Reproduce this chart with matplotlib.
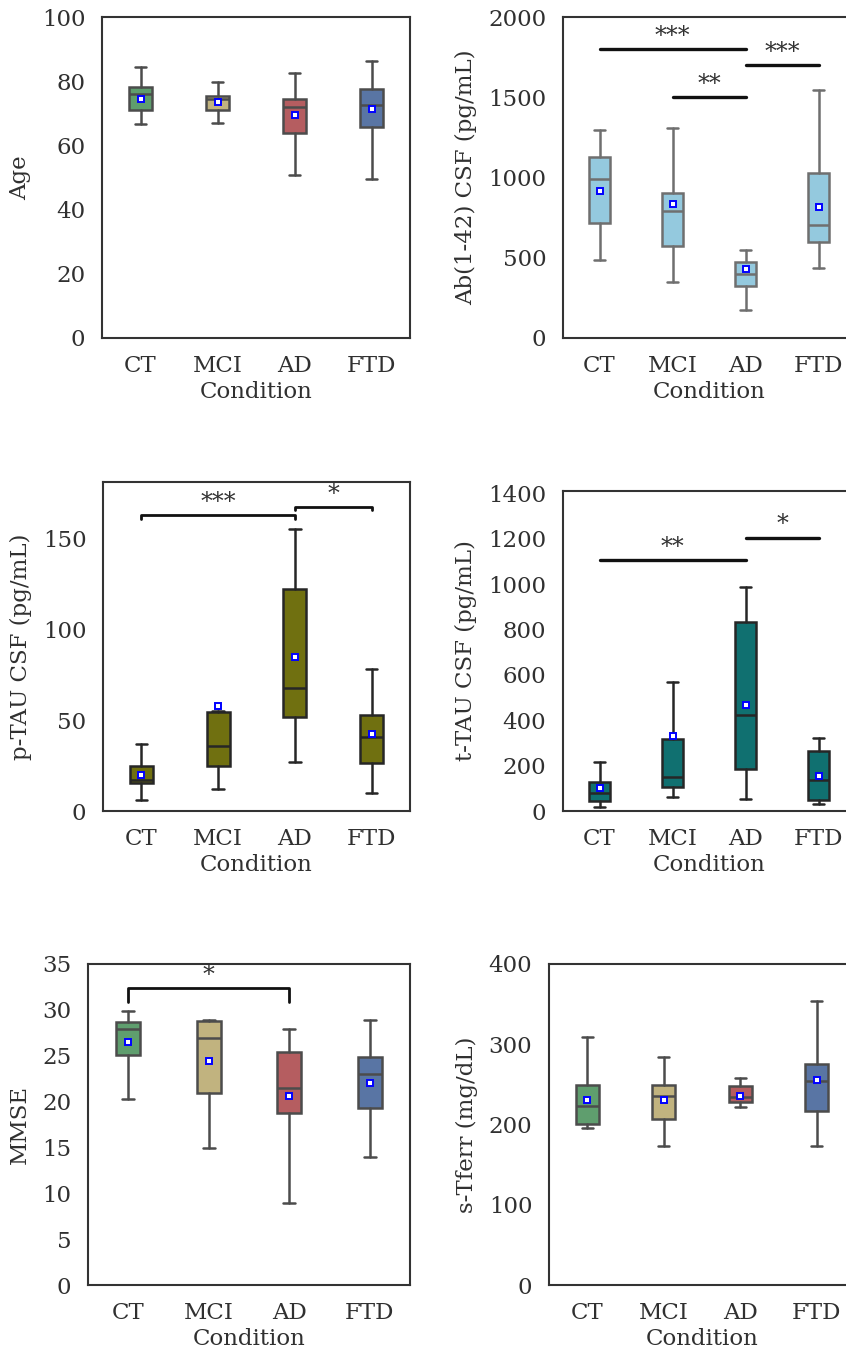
import colorsys

import matplotlib
matplotlib.use("Agg")
import matplotlib.colors as mcolors
import matplotlib.pyplot as plt
import seaborn as sns

sns.set_style("white")
plt.rcParams["font.family"] = ["DejaVu Serif"]
plt.rcParams["xtick.major.pad"] = 12
plt.rcParams["ytick.major.pad"] = 12

conditions = ["CT", "MCI", "AD", "FTD"]
deep = ["#55A868", "#CCB974", "#C44E52", "#4C72B0"]

# each box: (whisker low, q1, median, q3, whisker high, mean)
age_box = [(66.8, 70.9, 76.1, 78.2, 84.3, 74.4),
           (67.0, 71.1, 74.6, 75.5, 79.8, 73.5),
           (50.9, 64.0, 71.9, 74.4, 82.6, 69.6),
           (49.6, 65.7, 72.5, 77.7, 86.2, 71.4)]
ab_box = [(487, 715, 989, 1126, 1295, 916),
          (347, 571, 791, 906, 1306, 833),
          (174, 322, 397, 474, 550, 432),
          (436, 600, 704, 1028, 1547, 818)]
ptau_box = [(5.9, 15.6, 17.1, 25.0, 36.9, 20.0),
            (11.9, 25.0, 36.0, 54.4, 55.2, 57.7),
            (27.0, 51.8, 67.6, 122.4, 155.0, 84.9),
            (10.1, 26.3, 40.6, 52.6, 78.3, 42.3)]
ttau_box = [(19, 46, 81, 126, 217, 103),
            (63, 104, 151, 316, 568, 329),
            (51, 185, 423, 834, 988, 468),
            (31, 48, 137, 264, 323, 154)]
mmse_box = [(20.3, 25.1, 27.9, 28.7, 29.9, 26.5),
            (14.9, 20.95, 26.9, 28.8, 28.9, 24.4),
            (8.9, 18.7, 21.5, 25.4, 27.9, 20.6),
            (14.0, 19.3, 23.0, 24.9, 28.9, 22.0)]
tferr_box = [(195.4, 200.4, 222.5, 248.6, 309, 230.8),
             (173.8, 207, 235, 248.6, 284, 230.4),
             (221.6, 227.9, 234, 247.8, 258, 235.3),
             (173.8, 217, 254.5, 275.7, 354, 254.9)]

# significance: (group a, group b, height, drop, label)
ab_sig = [(0, 2, 1800, 0, "***"), (1, 2, 1500, 0, "**"), (2, 3, 1700, 0, "***")]
ptau_sig = [(0, 2, 162.9, 2.4, "***"), (2, 3, 167.1, 1.5, "*")]
ttau_sig = [(0, 2, 1105, 0, "**"), (2, 3, 1205, 0, "*")]
mmse_sig = [(0, 2, 32.4, 1.5, "*")]

FS = 16.5
TXT = "#303030"


def axes_at(fig, left, right, top, bottom):
    W, H = 846, 1357
    return fig.add_axes([left / W, 1 - bottom / H, (right - left) / W, (bottom - top) / H])


def draw(ax, box, colors, ylabel, ylim, yticks, sig=()):
    fills = [sns.desaturate(c, 0.75) for c in colors]
    lum = min(colorsys.rgb_to_hls(*mcolors.to_rgb(c))[1] for c in fills) * 0.6
    gray = (lum, lum, lum)
    stats = [dict(whislo=b[0], q1=b[1], med=b[2], q3=b[3], whishi=b[4], mean=b[5])
             for b in box]
    line = dict(color=gray, linewidth=1.8)
    bp = ax.bxp(stats, positions=range(4), widths=0.3, capwidths=0.15,
                patch_artist=True, showmeans=True, showfliers=False,
                boxprops=dict(edgecolor=gray, linewidth=1.8),
                whiskerprops=line, capprops=line, medianprops=line,
                meanprops=dict(marker="s", markerfacecolor="white",
                               markeredgecolor="blue", markersize=4.5,
                               markeredgewidth=1.4))
    for patch, c in zip(bp["boxes"], fills):
        patch.set_facecolor(c)
    for a, b, y, h, lab in sig:
        if h:
            ax.plot([a, a, b, b], [y - h, y, y, y - h], color="#111111", lw=2)
        else:
            ax.plot([a, b], [y, y], color="#111111", lw=2.4)
        ax.annotate(lab, ((a + b) / 2, y), xytext=(0, 4.5),
                    textcoords="offset points", ha="center", va="baseline",
                    fontsize=FS + 0.5, color=TXT)
    ax.set_xlim(-0.5, 3.5)
    ax.set_xticks(range(4))
    ax.set_xticklabels(conditions)
    ax.set_ylim(*ylim)
    ax.set_yticks(yticks)
    ax.set_xlabel("Condition", fontsize=FS, color=TXT, labelpad=3)
    ax.set_ylabel(ylabel, fontsize=FS, color=TXT, labelpad=8)
    ax.tick_params(labelsize=FS, labelcolor=TXT, length=0)
    for s in ax.spines.values():
        s.set_color("#333333")
        s.set_linewidth(1.5)


fig = plt.figure(figsize=(8.46, 13.57), dpi=100)

draw(axes_at(fig, 102, 410, 17, 338), age_box, deep, "Age",
     (0, 100), range(0, 101, 20))
draw(axes_at(fig, 563, 855, 17, 338), ab_box, ["skyblue"] * 4,
     "Ab(1-42) CSF (pg/mL)", (0, 2000), range(0, 2001, 500), ab_sig)
draw(axes_at(fig, 103, 410, 482, 811), ptau_box, ["olive"] * 4,
     "p-TAU CSF (pg/mL)", (0, 181), range(0, 151, 50), ptau_sig)
draw(axes_at(fig, 563, 855, 491, 811), ttau_box, ["teal"] * 4,
     "t-TAU CSF (pg/mL)", (0, 1410), range(0, 1401, 200), ttau_sig)
draw(axes_at(fig, 88, 410, 964, 1285), mmse_box, deep, "MMSE",
     (0, 35), range(0, 36, 5), mmse_sig)
draw(axes_at(fig, 549, 855, 964, 1285), tferr_box, deep, "s-Tferr (mg/dL)",
     (0, 400), range(0, 401, 100))

fig.savefig("out.png", dpi=100)
